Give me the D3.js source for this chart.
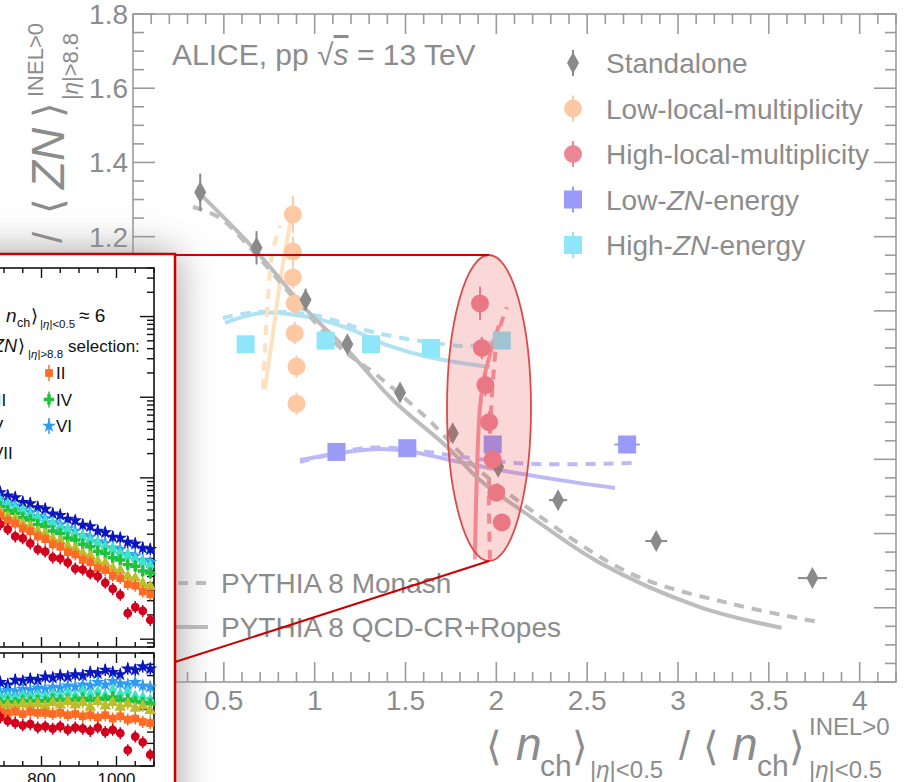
<!DOCTYPE html>
<html><head><meta charset="utf-8">
<script src="https://cdn.jsdelivr.net/npm/d3@7"></script>
<style>
html,body{margin:0;padding:0;background:#fff;}
svg{display:block;font-family:"Liberation Sans",Arial,Helvetica,sans-serif;}
</style></head><body>
<svg id="chart" width="911" height="782"></svg>
<script>
// ---------- Main panel: <ZN> ratio vs. <n_ch> ratio ----------
const standaloneX  = [0.37, 0.68, 0.95, 1.18, 1.47, 1.76, 2.01, 2.34, 2.88, 3.74];
const standaloneY  = [1.32, 1.17, 1.03, 0.91, 0.78, 0.67, 0.58, 0.49, 0.38, 0.28];
const standaloneEx = [0.02, 0.02, 0.02, 0.02, 0.02, 0.02, 0.02, 0.05, 0.06, 0.08];
const standaloneEy = [0.05, 0.045, 0.03, 0.02, 0.02, 0.02, 0.02, 0.02, 0.02, 0.02];

const lowLocalX  = [0.88, 0.88, 0.88, 0.89, 0.89, 0.90, 0.90];
const lowLocalY  = [1.26, 1.16, 1.09, 1.02, 0.94, 0.85, 0.75];
const lowLocalEy = [0.05, 0.04, 0.03, 0.03, 0.03, 0.03, 0.03];

const highLocalX  = [1.91, 1.92, 1.94, 1.96, 1.98, 2.00, 2.03];
const highLocalY  = [1.02, 0.90, 0.80, 0.70, 0.60, 0.51, 0.43];
const highLocalEy = [0.045, 0.03, 0.03, 0.03, 0.025, 0.02, 0.02];

const lowZNX  = [1.12, 1.51, 1.98, 2.72];
const lowZNY  = [0.62, 0.63, 0.64, 0.64];
const lowZNEx = [0.03, 0.03, 0.03, 0.07];

const highZNX  = [0.62, 1.06, 1.31, 1.64, 2.03];
const highZNY  = [0.91, 0.92, 0.91, 0.90, 0.92];
const highZNEx = [0.03, 0.03, 0.03, 0.03, 0.03];

// PYTHIA 8 predictions
const monashX = [0.33, 0.48, 0.68, 1.12, 1.36, 1.62, 1.86, 2.20, 2.75, 3.30, 3.79];
const monashY = [1.28, 1.25, 1.15, 0.91, 0.82, 0.71, 0.59, 0.46, 0.29, 0.21, 0.16];
const ropesX  = [0.36, 0.68, 0.96, 1.18, 1.43, 1.73, 1.91, 2.19, 2.57, 3.12, 3.57];
const ropesY  = [1.32, 1.16, 1.00, 0.895, 0.76, 0.633, 0.544, 0.445, 0.321, 0.202, 0.146];

const lowLocalRopesX  = [0.726, 0.765, 0.804, 0.837, 0.870];
const lowLocalRopesY  = [0.79, 0.92, 1.06, 1.16, 1.25];
const lowLocalMonashX = [0.715, 0.726, 0.743, 0.765, 0.809];
const lowLocalMonashY = [0.79, 0.895, 1.03, 1.15, 1.23];

const highLocalRopesX  = [1.882, 1.893, 1.910, 1.937, 1.976, 2.014];
const highLocalRopesY  = [0.33, 0.56, 0.74, 0.83, 0.90, 0.96];
const highLocalMonashX = [1.965, 1.959, 1.965, 1.981, 2.009, 2.058];
const highLocalMonashY = [0.33, 0.49, 0.65, 0.81, 0.935, 1.01];

const highZNRopesX  = [0.506, 0.715, 0.958, 1.178, 1.398, 1.651, 1.965];
const highZNRopesY  = [0.968, 0.995, 0.984, 0.954, 0.908, 0.873, 0.849];
const highZNMonashX = [0.495, 0.682, 0.991, 1.321, 1.651, 1.855, 2.075];
const highZNMonashY = [0.981, 0.997, 0.989, 0.943, 0.914, 0.906, 0.927];

const lowZNRopesX  = [0.919, 1.178, 1.359, 1.541, 1.745, 2.02, 2.35, 2.653];
const lowZNRopesY  = [0.598, 0.620, 0.628, 0.620, 0.598, 0.571, 0.544, 0.523];
const lowZNMonashX = [0.919, 1.288, 1.541, 1.816, 2.185, 2.746];
const lowZNMonashY = [0.593, 0.631, 0.625, 0.606, 0.588, 0.590];

const legendLabels = ["Standalone", "Low-local-multiplicity", "High-local-multiplicity", "Low-ZN-energy", "High-ZN-energy"];
const modelLabels  = ["PYTHIA 8 Monash", "PYTHIA 8 QCD-CR+Ropes"];

// ---------- Inset: spectra for the seven ZN-energy classes ----------
const insetX = [690, 710, 730, 750, 770, 790, 810, 830, 850, 870, 890, 910, 930, 950, 970, 990, 1010, 1030, 1050, 1070, 1090];
const insetClasses = ["I", "II", "III", "IV", "V", "VI", "VII"];
const yieldI   = [2.66, 2.30, 1.88, 1.78, 1.54, 1.30, 1.22, 1.03, 1.00, 0.89, 0.75, 0.73, 0.65, 0.60, 0.50, 0.42, 0.355, 0.21, 0.25, 0.224, 0.173];
const yieldII  = [3.40, 2.95, 2.72, 2.35, 2.18, 1.88, 1.74, 1.50, 1.40, 1.20, 1.12, 0.96, 0.90, 0.76, 0.72, 0.61, 0.57, 0.48, 0.46, 0.39, 0.36];
const yieldIII = [3.80, 3.30, 3.10, 2.70, 2.50, 2.15, 2.02, 1.75, 1.65, 1.42, 1.33, 1.15, 1.08, 0.92, 0.87, 0.75, 0.71, 0.60, 0.57, 0.49, 0.45];
const yieldIV  = [4.40, 3.90, 3.65, 3.20, 3.00, 2.65, 2.50, 2.20, 2.05, 1.80, 1.70, 1.50, 1.40, 1.23, 1.16, 1.02, 0.96, 0.84, 0.80, 0.70, 0.66];
const yieldV   = [4.90, 4.60, 4.10, 3.85, 3.40, 3.20, 2.85, 2.70, 2.38, 2.25, 1.98, 1.87, 1.66, 1.56, 1.38, 1.31, 1.14, 1.09, 0.96, 0.91, 0.80];
const yieldVI  = [5.40, 4.80, 4.50, 4.00, 3.75, 3.35, 3.15, 2.80, 2.65, 2.35, 2.20, 1.95, 1.85, 1.62, 1.55, 1.36, 1.30, 1.13, 1.08, 0.95, 0.90];
const yieldVII = [6.60, 6.00, 5.70, 5.00, 4.80, 4.30, 4.10, 3.60, 3.45, 3.10, 2.95, 2.60, 2.50, 2.20, 2.10, 1.85, 1.80, 1.60, 1.52, 1.35, 1.30];
const ratioI   = [0.93, 0.90, 0.88, 0.86, 0.87, 0.84, 0.85, 0.83, 0.85, 0.82, 0.84, 0.83, 0.81, 0.84, 0.80, 0.82, 0.79, 0.64, 0.76, 0.71, 0.60];
const ratioII  = [0.98, 0.97, 0.98, 0.96, 0.98, 0.97, 0.97, 0.96, 0.97, 0.95, 0.96, 0.94, 0.95, 0.93, 0.95, 0.92, 0.94, 0.91, 0.92, 0.89, 0.88];
const ratioIII = [1.03, 1.04, 1.03, 1.05, 1.04, 1.05, 1.03, 1.06, 1.04, 1.07, 1.04, 1.06, 1.02, 1.07, 1.03, 1.06, 1.02, 1.05, 1.01, 1.03, 0.99];
const ratioIV  = [1.06, 1.07, 1.06, 1.08, 1.07, 1.08, 1.07, 1.09, 1.08, 1.09, 1.08, 1.10, 1.08, 1.10, 1.09, 1.11, 1.08, 1.09, 1.07, 1.06, 1.05];
const ratioV   = [1.10, 1.11, 1.10, 1.12, 1.11, 1.12, 1.11, 1.13, 1.12, 1.14, 1.12, 1.16, 1.13, 1.15, 1.12, 1.17, 1.13, 1.15, 1.11, 1.10, 1.08];
const ratioVI  = [1.15, 1.17, 1.16, 1.18, 1.17, 1.19, 1.18, 1.20, 1.19, 1.21, 1.20, 1.22, 1.21, 1.24, 1.22, 1.25, 1.23, 1.22, 1.24, 1.21, 1.20];
const ratioVII = [1.24, 1.22, 1.26, 1.25, 1.27, 1.26, 1.29, 1.28, 1.30, 1.29, 1.31, 1.30, 1.33, 1.32, 1.35, 1.33, 1.31, 1.36, 1.35, 1.38, 1.36];
const insetTickLabels = [800, 1000];

// ---------- Drawing ----------
const svg = d3.select("#chart");
const M = {left: 133, right: 896, top: 14, bottom: 682};
const x = d3.scaleLinear([0, 4.2], [M.left, M.right]);
const y = d3.scaleLinear([0, 1.8], [M.bottom, M.top]);
const AX = "#9b9b9b", TXT = "#8c8c8c";
const C = {
  stand: "#8a8a8a", lowLoc: "#fcc9a4", highLoc: "#eb8796", lowZN: "#9a9af8", highZN: "#8ee6f8",
  lowLocModel: "#fde2c0", highLocModel: "#f59aa4", lowZNModel: "#bdb9f7", highZNModel: "#b0e2f4", pythia: "#bdbdbd"
};

const main = svg.append("g");

// frame and ticks
main.append("rect").attr("x", M.left).attr("y", M.top)
  .attr("width", M.right - M.left).attr("height", M.bottom - M.top)
  .attr("fill", "none").attr("stroke", AX).attr("stroke-width", 1.6);
const near = (v, step) => Math.abs(v / step - Math.round(v / step)) < 1e-6;
const tickLine = (g, x1, y1, x2, y2) => g.append("line").attr("x1", x1).attr("y1", y1).attr("x2", x2).attr("y2", y2)
  .attr("stroke", AX).attr("stroke-width", 1.6);
x.ticks(42).forEach(v => {
  const L = near(v, 0.5) ? 20 : 10;
  tickLine(main, x(v), M.bottom, x(v), M.bottom - L);
  tickLine(main, x(v), M.top, x(v), M.top + L);
});
y.ticks(36).forEach(v => {
  const L = near(v, 0.2) ? 22 : 11;
  tickLine(main, M.left, y(v), M.left + L, y(v));
  tickLine(main, M.right, y(v), M.right - L, y(v));
});
const fmt = d3.format("~g");
x.ticks(8).filter(v => v > 0).forEach(v => {
  main.append("text").attr("x", x(v)).attr("y", 710).attr("text-anchor", "middle")
    .attr("font-size", 28).attr("fill", TXT).text(fmt(v));
});
y.ticks(9).forEach(v => {
  main.append("text").attr("x", 128).attr("y", y(v) + 10).attr("text-anchor", "end")
    .attr("font-size", 28).attr("fill", TXT).text(fmt(v));
});

// axis titles
function piece(g, txt, px, py, size, italic) {
  return g.append("text").attr("x", px).attr("y", py).attr("font-size", size)
    .attr("fill", TXT).attr("font-style", italic ? "italic" : null).text(txt);
}
function etaLabel(g, px, py, size, rest) {
  const t = g.append("text").attr("x", px).attr("y", py).attr("font-size", size).attr("fill", TXT);
  t.append("tspan").text("|");
  t.append("tspan").attr("font-style", "italic").text("η");
  t.append("tspan").text("|" + rest);
  return t;
}
const xt = main.append("g");
piece(xt, "⟨", 486, 760, 40);
piece(xt, "n", 516, 760, 46, true);
piece(xt, "ch", 540, 776, 30);
piece(xt, "⟩", 572, 760, 40);
etaLabel(xt, 590, 778, 24, "<0.5");
piece(xt, "/", 679, 760, 40);
piece(xt, "⟨", 703, 760, 40);
piece(xt, "n", 732, 760, 46, true);
piece(xt, "ch", 757, 776, 30);
piece(xt, "⟩", 789, 760, 40);
piece(xt, "INEL>0", 809, 735, 24);
etaLabel(xt, 809, 778, 24, "<0.5");

const yt = main.append("g").attr("transform", "translate(62,0) rotate(-90)");
piece(yt, "⟨", -480, 0, 40);
piece(yt, "ZN", -458, 0, 44, true);
piece(yt, "⟩", -388, 0, 40);
etaLabel(yt, -370, 16, 22, ">8.8");
piece(yt, "/", -243, 0, 40);
piece(yt, "⟨", -214, 0, 40);
piece(yt, "ZN", -189, 2, 46, true);
piece(yt, "⟩", -118, 0, 40);
piece(yt, "INEL>0", -97, -19, 22);
etaLabel(yt, -100, 16, 22, ">8.8");

// title
const title = main.append("text").attr("x", 172).attr("y", 65).attr("font-size", 30).attr("fill", TXT);
title.append("tspan").text("ALICE, pp ");
title.append("tspan").text("√");
title.append("tspan").attr("font-style", "italic").attr("text-decoration", "overline").text("s");
title.append("tspan").text(" = 13 TeV");

// model curves
const lineGen = d3.line().x(d => x(d[0])).y(d => y(d[1])).curve(d3.curveCatmullRom.alpha(0.5));
function curve(xs, ys, color, dashed) {
  main.append("path").datum(d3.zip(xs, ys)).attr("d", lineGen)
    .attr("fill", "none").attr("stroke", color).attr("stroke-width", 4)
    .attr("stroke-dasharray", dashed ? "10,8" : null);
}
curve(lowZNRopesX, lowZNRopesY, C.lowZNModel, false);
curve(lowZNMonashX, lowZNMonashY, C.lowZNModel, true);
curve(highZNRopesX, highZNRopesY, C.highZNModel, false);
curve(highZNMonashX, highZNMonashY, C.highZNModel, true);
curve(lowLocalRopesX, lowLocalRopesY, C.lowLocModel, false);
curve(lowLocalMonashX, lowLocalMonashY, C.lowLocModel, true);
curve(highLocalRopesX, highLocalRopesY, C.highLocModel, false);
curve(highLocalMonashX, highLocalMonashY, C.highLocModel, true);
curve(ropesX, ropesY, C.pythia, false);
curve(monashX, monashY, C.pythia, true);

// data points
function points(xs, ys, exs, eys, color, shape) {
  const g = main.append("g");
  xs.forEach((xv, i) => {
    const yv = ys[i], ex = exs ? exs[i] : 0, ey = eys ? eys[i] : 0.02;
    if (ex > 0) g.append("line").attr("x1", x(xv - ex)).attr("x2", x(xv + ex)).attr("y1", y(yv)).attr("y2", y(yv))
      .attr("stroke", color).attr("stroke-width", 2);
    g.append("line").attr("x1", x(xv)).attr("x2", x(xv)).attr("y1", y(yv - ey)).attr("y2", y(yv + ey))
      .attr("stroke", color).attr("stroke-width", 2);
    marker(g, x(xv), y(yv), color, shape);
  });
}
function marker(g, cx, cy, color, shape) {
  if (shape === "circle") g.append("circle").attr("cx", cx).attr("cy", cy).attr("r", 9).attr("fill", color);
  else if (shape === "square") g.append("rect").attr("x", cx - 9).attr("y", cy - 9).attr("width", 18).attr("height", 18).attr("fill", color);
  else g.append("path").attr("d", `M${cx},${cy - 11}L${cx + 6},${cy}L${cx},${cy + 11}L${cx - 6},${cy}Z`).attr("fill", color);
}
points(lowZNX, lowZNY, lowZNEx, null, C.lowZN, "square");
points(highZNX, highZNY, highZNEx, null, C.highZN, "square");
points(lowLocalX, lowLocalY, null, lowLocalEy, C.lowLoc, "circle");
points(standaloneX, standaloneY, standaloneEx, standaloneEy, C.stand, "diamond");
points(highLocalX, highLocalY, null, highLocalEy, C.highLoc, "circle");

// legend (markers)
const legColors = [C.stand, C.lowLoc, C.highLoc, C.lowZN, C.highZN];
const legShapes = ["diamond", "circle", "circle", "square", "square"];
legendLabels.forEach((lab, i) => {
  const cy = 63 + i * 45.5;
  main.append("line").attr("x1", 573).attr("x2", 573).attr("y1", cy - 13).attr("y2", cy + 13)
    .attr("stroke", legColors[i]).attr("stroke-width", 2);
  marker(main, 573, cy, legColors[i], legShapes[i]);
  const t = main.append("text").attr("x", 606).attr("y", cy + 10).attr("font-size", 28).attr("fill", TXT);
  const parts = lab.split("ZN");
  if (parts.length === 2) {
    t.append("tspan").text(parts[0]);
    t.append("tspan").attr("font-style", "italic").text("ZN");
    t.append("tspan").text(parts[1]);
  } else t.text(lab);
});
// legend (models)
modelLabels.forEach((lab, i) => {
  const cy = 583 + i * 44;
  main.append("line").attr("x1", 160).attr("x2", 208).attr("y1", cy).attr("y2", cy)
    .attr("stroke", C.pythia).attr("stroke-width", 4).attr("stroke-dasharray", i === 0 ? "10,8" : null);
  main.append("text").attr("x", 221).attr("y", cy + 10).attr("font-size", 28).attr("fill", TXT).text(lab);
});

// zoom ellipse around the high-local-multiplicity selection
const ell = {cx: 489, cy: 408, rx: 42, ry: 153};
main.append("ellipse").attr("cx", ell.cx).attr("cy", ell.cy).attr("rx", ell.rx).attr("ry", ell.ry)
  .attr("fill", "rgba(230,60,60,0.2)").attr("stroke", "#dd4a4a").attr("stroke-width", 1.8);

// ---------- Inset ----------
const box = {x: -20, y: 254, w: 195, h: 600};
const defs = svg.append("defs");
defs.append("filter").attr("id", "soft").attr("x", "-50%").attr("y", "-50%").attr("width", "200%").attr("height", "200%")
  .append("feGaussianBlur").attr("stdDeviation", 20);
defs.append("clipPath").attr("id", "insetClip").append("rect")
  .attr("x", box.x).attr("y", box.y).attr("width", box.w).attr("height", box.h);

svg.append("rect").attr("x", box.x - 40).attr("y", box.y).attr("width", box.w + 40).attr("height", box.h)
  .attr("fill", "#959595").attr("filter", "url(#soft)");

// connector lines
svg.append("line").attr("x1", box.x + box.w).attr("y1", box.y + 1).attr("x2", ell.cx).attr("y2", ell.cy - ell.ry)
  .attr("stroke", "#cc0000").attr("stroke-width", 2);
svg.append("line").attr("x1", box.x + box.w).attr("y1", 662).attr("x2", ell.cx).attr("y2", ell.cy + ell.ry)
  .attr("stroke", "#cc0000").attr("stroke-width", 2);

const inset = svg.append("g").attr("clip-path", "url(#insetClip)");
inset.append("rect").attr("x", box.x).attr("y", box.y).attr("width", box.w).attr("height", box.h).attr("fill", "#fff");

const xIn = d3.scaleLinear([600, 1100], [-33.5, 154]);
const yUp = d3.scaleLog([0.08, 4000], [647, 268]);
const yLo = d3.scaleLinear([0.5, 1.5], [766, 653]);
const BLK = "#111";
const inLine = (x1, y1, x2, y2, w) => inset.append("line").attr("x1", x1).attr("y1", y1).attr("x2", x2).attr("y2", y2)
  .attr("stroke", BLK).attr("stroke-width", w || 1.4);

// panel frames
[[yUp.range()[1], yUp.range()[0]], [yLo.range()[1], yLo.range()[0]]].forEach(([t, b]) => {
  inset.append("rect").attr("x", -40).attr("y", t).attr("width", 194).attr("height", b - t)
    .attr("fill", "none").attr("stroke", BLK).attr("stroke-width", 1.6);
});
d3.range(600, 1101, 50).forEach(v => {
  const L = v % 200 === 0 ? 10 : 5;
  [[268, 1], [647, -1], [653, 1], [766, -1]].forEach(([yy, dir]) => inLine(xIn(v), yy, xIn(v), yy + dir * L));
});
yUp.ticks().forEach(t => {
  const lg = Math.log10(t);
  const L = Math.abs(lg - Math.round(lg)) < 1e-9 ? 14 : 7;
  inLine(154, yUp(t), 154 - L, yUp(t));
});
d3.range(0.5, 1.501, 0.1).forEach(v => {
  const L = near(v, 0.5) ? 14 : 7;
  inLine(154, yLo(v), 154 - L, yLo(v));
});
insetTickLabels.forEach(v => {
  inset.append("text").attr("x", xIn(v)).attr("y", 785).attr("text-anchor", "middle")
    .attr("font-size", 17).attr("fill", BLK).text(v);
});

const inColors = ["#d2001c", "#ff6b24", "#bdbd2e", "#1fc23a", "#3de3c6", "#2f9cf2", "#0b16bf"];
const inSymbols = [d3.symbolCircle, d3.symbolSquare, d3.symbolTriangle, d3.symbolCross, d3.symbolDiamond, d3.symbolStar, d3.symbolStar];
const yields = [yieldI, yieldII, yieldIII, yieldIV, yieldV, yieldVI, yieldVII];
const ratios = [ratioI, ratioII, ratioIII, ratioIV, ratioV, ratioVI, ratioVII];

function insetSeries(vals, ys, color, sym) {
  const g = inset.append("g");
  vals.forEach((v, i) => {
    const px = xIn(insetX[i]), py = ys(v);
    g.append("line").attr("x1", px).attr("x2", px).attr("y1", py - 6).attr("y2", py + 6)
      .attr("stroke", color).attr("stroke-width", 1.5);
    g.append("path").attr("transform", `translate(${px},${py})`).attr("d", d3.symbol(sym, 60)()).attr("fill", color);
  });
}
for (let k = insetClasses.length - 1; k >= 0; k--) {
  insetSeries(yields[k], yUp, inColors[k], inSymbols[k]);
  insetSeries(ratios[k], yLo, inColors[k], inSymbols[k]);
}

// inset labels
function inPiece(txt, px, py, size, italic) {
  return inset.append("text").attr("x", px).attr("y", py).attr("font-size", size).attr("fill", BLK)
    .attr("font-style", italic ? "italic" : null).text(txt);
}
function inEta(px, py, rest) {
  const t = inset.append("text").attr("x", px).attr("y", py).attr("font-size", 11.5).attr("fill", BLK);
  t.append("tspan").text("|");
  t.append("tspan").attr("font-style", "italic").text("η");
  t.append("tspan").text("|" + rest);
}
inPiece("⟨", -9, 322, 18);
inPiece("n", 6, 322, 19, true);
inPiece("ch", 17, 327, 12.5);
inPiece("⟩", 31, 322, 18);
inEta(40, 328, "<0.5");
inPiece("≈ 6", 79, 322, 19);
inPiece("⟨", -21, 352, 18);
inPiece("ZN", -7, 352, 18, true);
inPiece("⟩", 18, 352, 18);
inEta(28, 358, ">8.8");
inPiece("selection:", 68, 352, 17);

insetClasses.forEach((lab, k) => {
  const col = k % 2, row = Math.floor(k / 2);
  const mx = col === 0 ? -15 : 49, my = 373 + row * 26.5;
  inset.append("line").attr("x1", mx).attr("x2", mx).attr("y1", my - 8).attr("y2", my + 8)
    .attr("stroke", inColors[k]).attr("stroke-width", 1.5);
  inset.append("path").attr("transform", `translate(${mx},${my})`).attr("d", d3.symbol(inSymbols[k], 60)()).attr("fill", inColors[k]);
  inPiece(lab, mx + 7, my + 6, 17);
});

// inset border
svg.append("rect").attr("x", box.x).attr("y", box.y).attr("width", box.w).attr("height", box.h)
  .attr("fill", "none").attr("stroke", "#cc0000").attr("stroke-width", 2.5);
</script>
</body></html>
